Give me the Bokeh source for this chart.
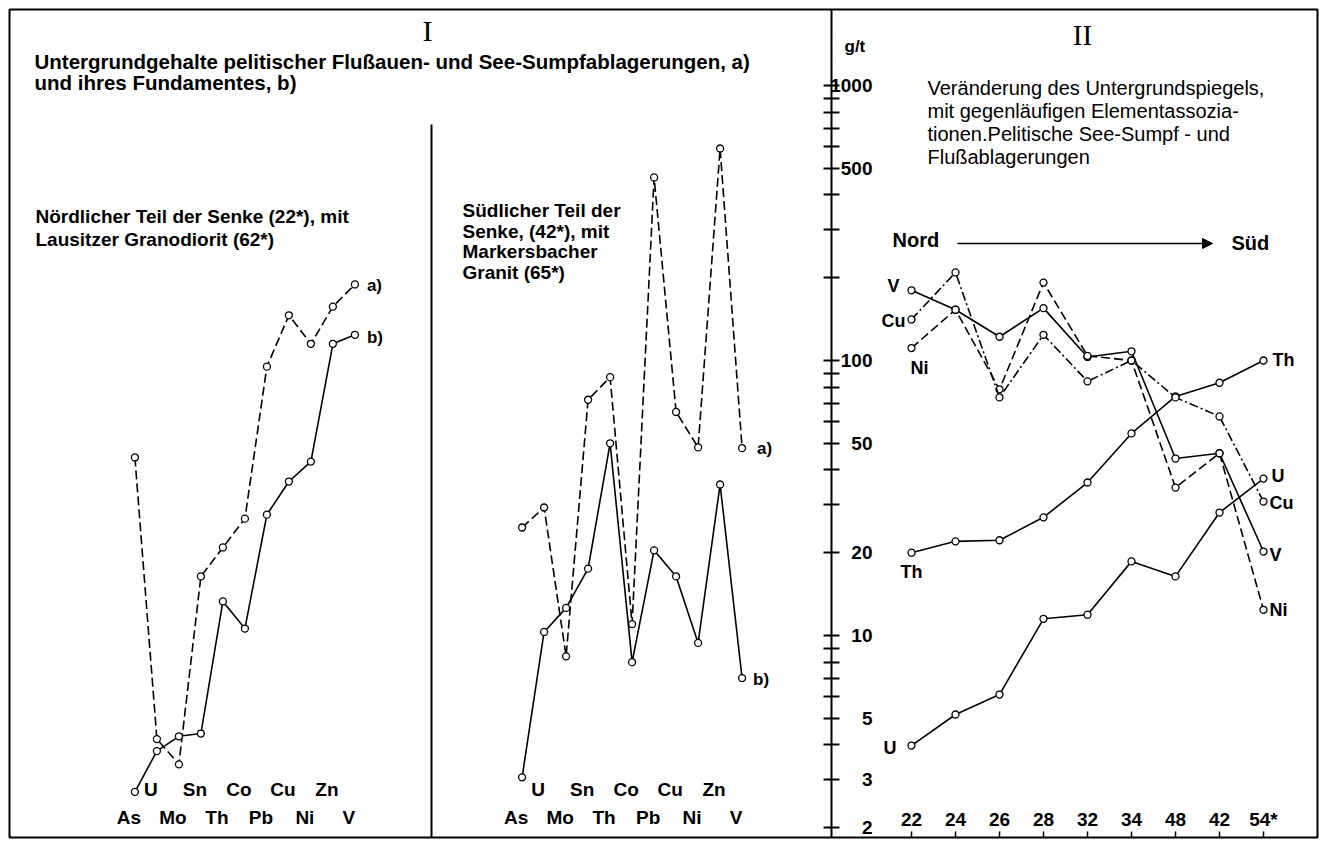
import math
from bokeh.plotting import figure
from bokeh.models import (Range1d, LogAxis, LinearAxis, FixedTicker, Label, Arrow,
                          NormalHead, ColumnDataSource)
from bokeh.core.properties import value
from bokeh.embed import file_html
from bokeh.resources import INLINE

# ---------------- data ----------------
elements = ["As", "U", "Mo", "Sn", "Th", "Co", "Pb", "Cu", "Ni", "Zn", "V"]
# Panel I, northern part (a = sediments, b = basement)
north_a = [44.4, 4.2, 3.4, 16.4, 20.9, 26.6, 95, 146, 115, 157, 189]
north_b = [2.7, 3.8, 4.3, 4.4, 13.3, 10.6, 27.5, 36.3, 42.9, 115, 124]
# Panel I, southern part
south_a = [24.7, 29.2, 8.4, 72, 87, 11.0, 463, 65, 48.3, 590, 48]
south_b = [3.05, 10.3, 12.6, 17.5, 50, 8.0, 20.4, 16.4, 9.4, 35.4, 7.0]

# Panel II, stations north -> south
stations = ["22", "24", "26", "28", "32", "34", "48", "42", "54*"]
th = [20.0, 22.0, 22.2, 26.9, 36.0, 54.3, 74, 83, 100]
u = [3.98, 5.16, 6.10, 11.5, 11.9, 18.6, 16.4, 28.0, 37.2]
v = [180, 153, 122, 155, 103, 108, 44, 46, 20.2]
ni = [111, 153, 78.5, 192, 104, 100, 34.5, 46, 12.4]
cu = [141, 209, 73.4, 124, 84, 100, 73.4, 62.6, 30.7]

y_ticks = [2, 3, 4, 5, 6, 7, 8, 9, 10, 20, 30, 40, 50, 60, 70, 80, 90,
           100, 200, 300, 400, 500, 600, 700, 800, 900, 1000]
y_labelled = [2, 3, 5, 10, 20, 50, 100, 500, 1000]

# ---------------- layout constants ----------------
UNIT = 22.0            # px per x unit
ORIGIN = 142.0         # page px of x = 0
FL, FR, FT, FB = 10, 1318, 10, 838   # frame edges on page
def xdata(px):
    return (px - ORIGIN) / UNIT
Y_DEC = 275.0          # px per decade
Y100 = 361.0           # page px of 100 g/t
def ydata(py):
    return 10 ** (2 - (py - Y100) / Y_DEC)

X0, X1 = xdata(FL), xdata(FR)
Y0, Y1 = ydata(FB), ydata(FT)

xa = [-0.3 + i for i in range(len(elements))]
xb = [17.3 + i for i in range(len(elements))]
xs = [35 + 2 * i for i in range(len(stations))]

SANS = "Liberation Sans"
SERIF = "Liberation Serif"

p = figure(width=1319, height=839, output_backend="svg", toolbar_location=None,
           x_range=Range1d(X0, X1), y_range=Range1d(Y0, Y1), y_axis_type="log",
           x_axis_location=None, y_axis_location=None,
           min_border_left=9, min_border_right=2, min_border_top=9, min_border_bottom=2)
p.outline_line_color = "black"
p.outline_line_width = 2
p.background_fill_color = "white"
p.border_fill_color = "white"
for g in p.grid:
    g.visible = False

# ---------------- axes of panel II ----------------
yax = LogAxis(fixed_location=xdata(832), ticker=FixedTicker(ticks=y_ticks, minor_ticks=[]),
              major_tick_in=8, major_tick_out=8, minor_tick_in=0, minor_tick_out=0,
              axis_line_width=2, major_tick_line_width=2,
              major_label_standoff=-49,
              major_label_overrides={t: (str(t) if t in y_labelled else "") for t in y_ticks},
              major_label_text_font=SANS, major_label_text_font_style="bold",
              major_label_text_font_size="19px", major_label_text_color="black")
p.add_layout(yax, "left")

xax = LinearAxis(fixed_location=Y0, ticker=FixedTicker(ticks=xs, minor_ticks=[]),
                 major_tick_in=6, major_tick_out=0, minor_tick_in=0, minor_tick_out=0,
                 axis_line_color=None, major_tick_line_width=1.5,
                 major_label_standoff=-29,
                 major_label_overrides={x: s for x, s in zip(xs, stations)},
                 major_label_text_font=SANS, major_label_text_font_style="bold",
                 major_label_text_font_size="19px", major_label_text_color="black")
p.add_layout(xax, "below")

# divider between the two halves of panel I
p.segment(x0=[xdata(432)], y0=[ydata(125)], x1=[xdata(432)], y1=[Y0],
          line_color="black", line_width=2)

# ---------------- series ----------------
def series(x, y, dash):
    p.line(x, y, line_color="black", line_width=1.6, line_dash=dash)
    p.scatter(x, y, marker="circle", size=7, fill_color="white",
              line_color="black", line_width=1.3)

DASH = "9 4"
DASHDOT = "9 3 2 3"
series(xa, north_a, DASH)
series(xa, north_b, "solid")
series(xb, south_a, DASH)
series(xb, south_b, "solid")
series(xs, th, "solid")
series(xs, u, "solid")
series(xs, v, "solid")
series(xs, ni, DASH)
series(xs, cu, DASHDOT)

# ---------------- element labels (staggered) ----------------
lx, ly, lt, lyo = [], [], [], []
for xx in (xa, xb):
    for i, el in enumerate(elements):
        lx.append(xx[i]); ly.append(Y0); lt.append(el)
        lyo.append(-48 if i % 2 == 1 else -20)
p.text(x="x", y="y", text="t", y_offset="yo",
       source=ColumnDataSource(dict(x=lx, y=ly, t=lt, yo=lyo)),
       x_offset=-6, text_align="center", text_baseline="middle",
       text_font=value(SANS), text_font_style="bold", text_font_size="19px",
       text_color="black")

# ---------------- series labels ----------------
def tag(txt, x, y, xo, yo, align, size="18px"):
    p.text(x=[x], y=[y], text=[txt], x_offset=xo, y_offset=yo,
           text_align=align, text_baseline="middle",
           text_font=value(SANS), text_font_style="bold", text_font_size=size,
           text_color="black")

tag("a)", xa[-1], north_a[-1], 12, 1, "left", "17px")
tag("b)", xa[-1], north_b[-1], 12, 3, "left", "17px")
tag("a)", xb[-1], south_a[-1], 15, 0, "left", "17px")
tag("b)", xb[-1], south_b[-1], 11, 1, "left", "17px")

tag("V", xs[0], v[0], -12, -4, "right")
tag("Cu", xs[0], cu[0], -6, 2, "right")
tag("Ni", xs[0], ni[0], -1, 20, "left")
tag("Th", xs[0], th[0], 0, 19, "center")
tag("U", xs[0], u[0], -15, 2, "right")
tag("Th", xs[-1], th[-1], 9, -1, "left")
tag("U", xs[-1], u[-1], 8, -3, "left")
tag("Cu", xs[-1], cu[-1], 6, 1, "left")
tag("V", xs[-1], v[-1], 6, 3, "left")
tag("Ni", xs[-1], ni[-1], 6, 0, "left")

# ---------------- page texts ----------------
def page_text(txt, px, py, size, bold=True, align="left", font=SANS):
    p.add_layout(Label(x=px - FL, y=FB - py, x_units="screen", y_units="screen",
                       text=txt, text_align=align, text_baseline="middle",
                       text_font=font, text_font_size=size,
                       text_font_style="bold" if bold else "normal",
                       text_color="black"))

page_text("I", 428, 31, "30px", bold=False, align="center", font=SERIF)
page_text("II", 1083, 35, "29px", bold=False, align="center", font=SERIF)
page_text("Untergrundgehalte pelitischer Flußauen- und See-Sumpfablagerungen, a)", 35, 62, "20.5px")
page_text("und ihres Fundamentes, b)", 35, 83, "20.5px")
page_text("Nördlicher Teil der Senke (22*), mit", 36, 217, "19px")
page_text("Lausitzer Granodiorit (62*)", 36, 240, "19px")
for i, line in enumerate(["Südlicher Teil der", "Senke, (42*), mit", "Markersbacher", "Granit (65*)"]):
    page_text(line, 463, 211 + 20.5 * i, "19px")
page_text("g/t", 845, 47, "17px")
for i, line in enumerate(["Veränderung des Untergrundspiegels,", "mit gegenläufigen Elementassozia-",
                          "tionen.Pelitische See-Sumpf - und", " Flußablagerungen"]):
    page_text(line, 928, 88 + 23 * i, "20px", bold=False)
page_text("Nord", 893, 240, "20px")
page_text("Süd", 1232, 243, "20px")

p.add_layout(Arrow(end=NormalHead(size=10, fill_color="black", line_color="black"),
                   x_start=xdata(958), y_start=ydata(244), x_end=xdata(1213), y_end=ydata(244),
                   line_color="black", line_width=1.5))

open("out.html", "w").write(file_html(p, INLINE))
